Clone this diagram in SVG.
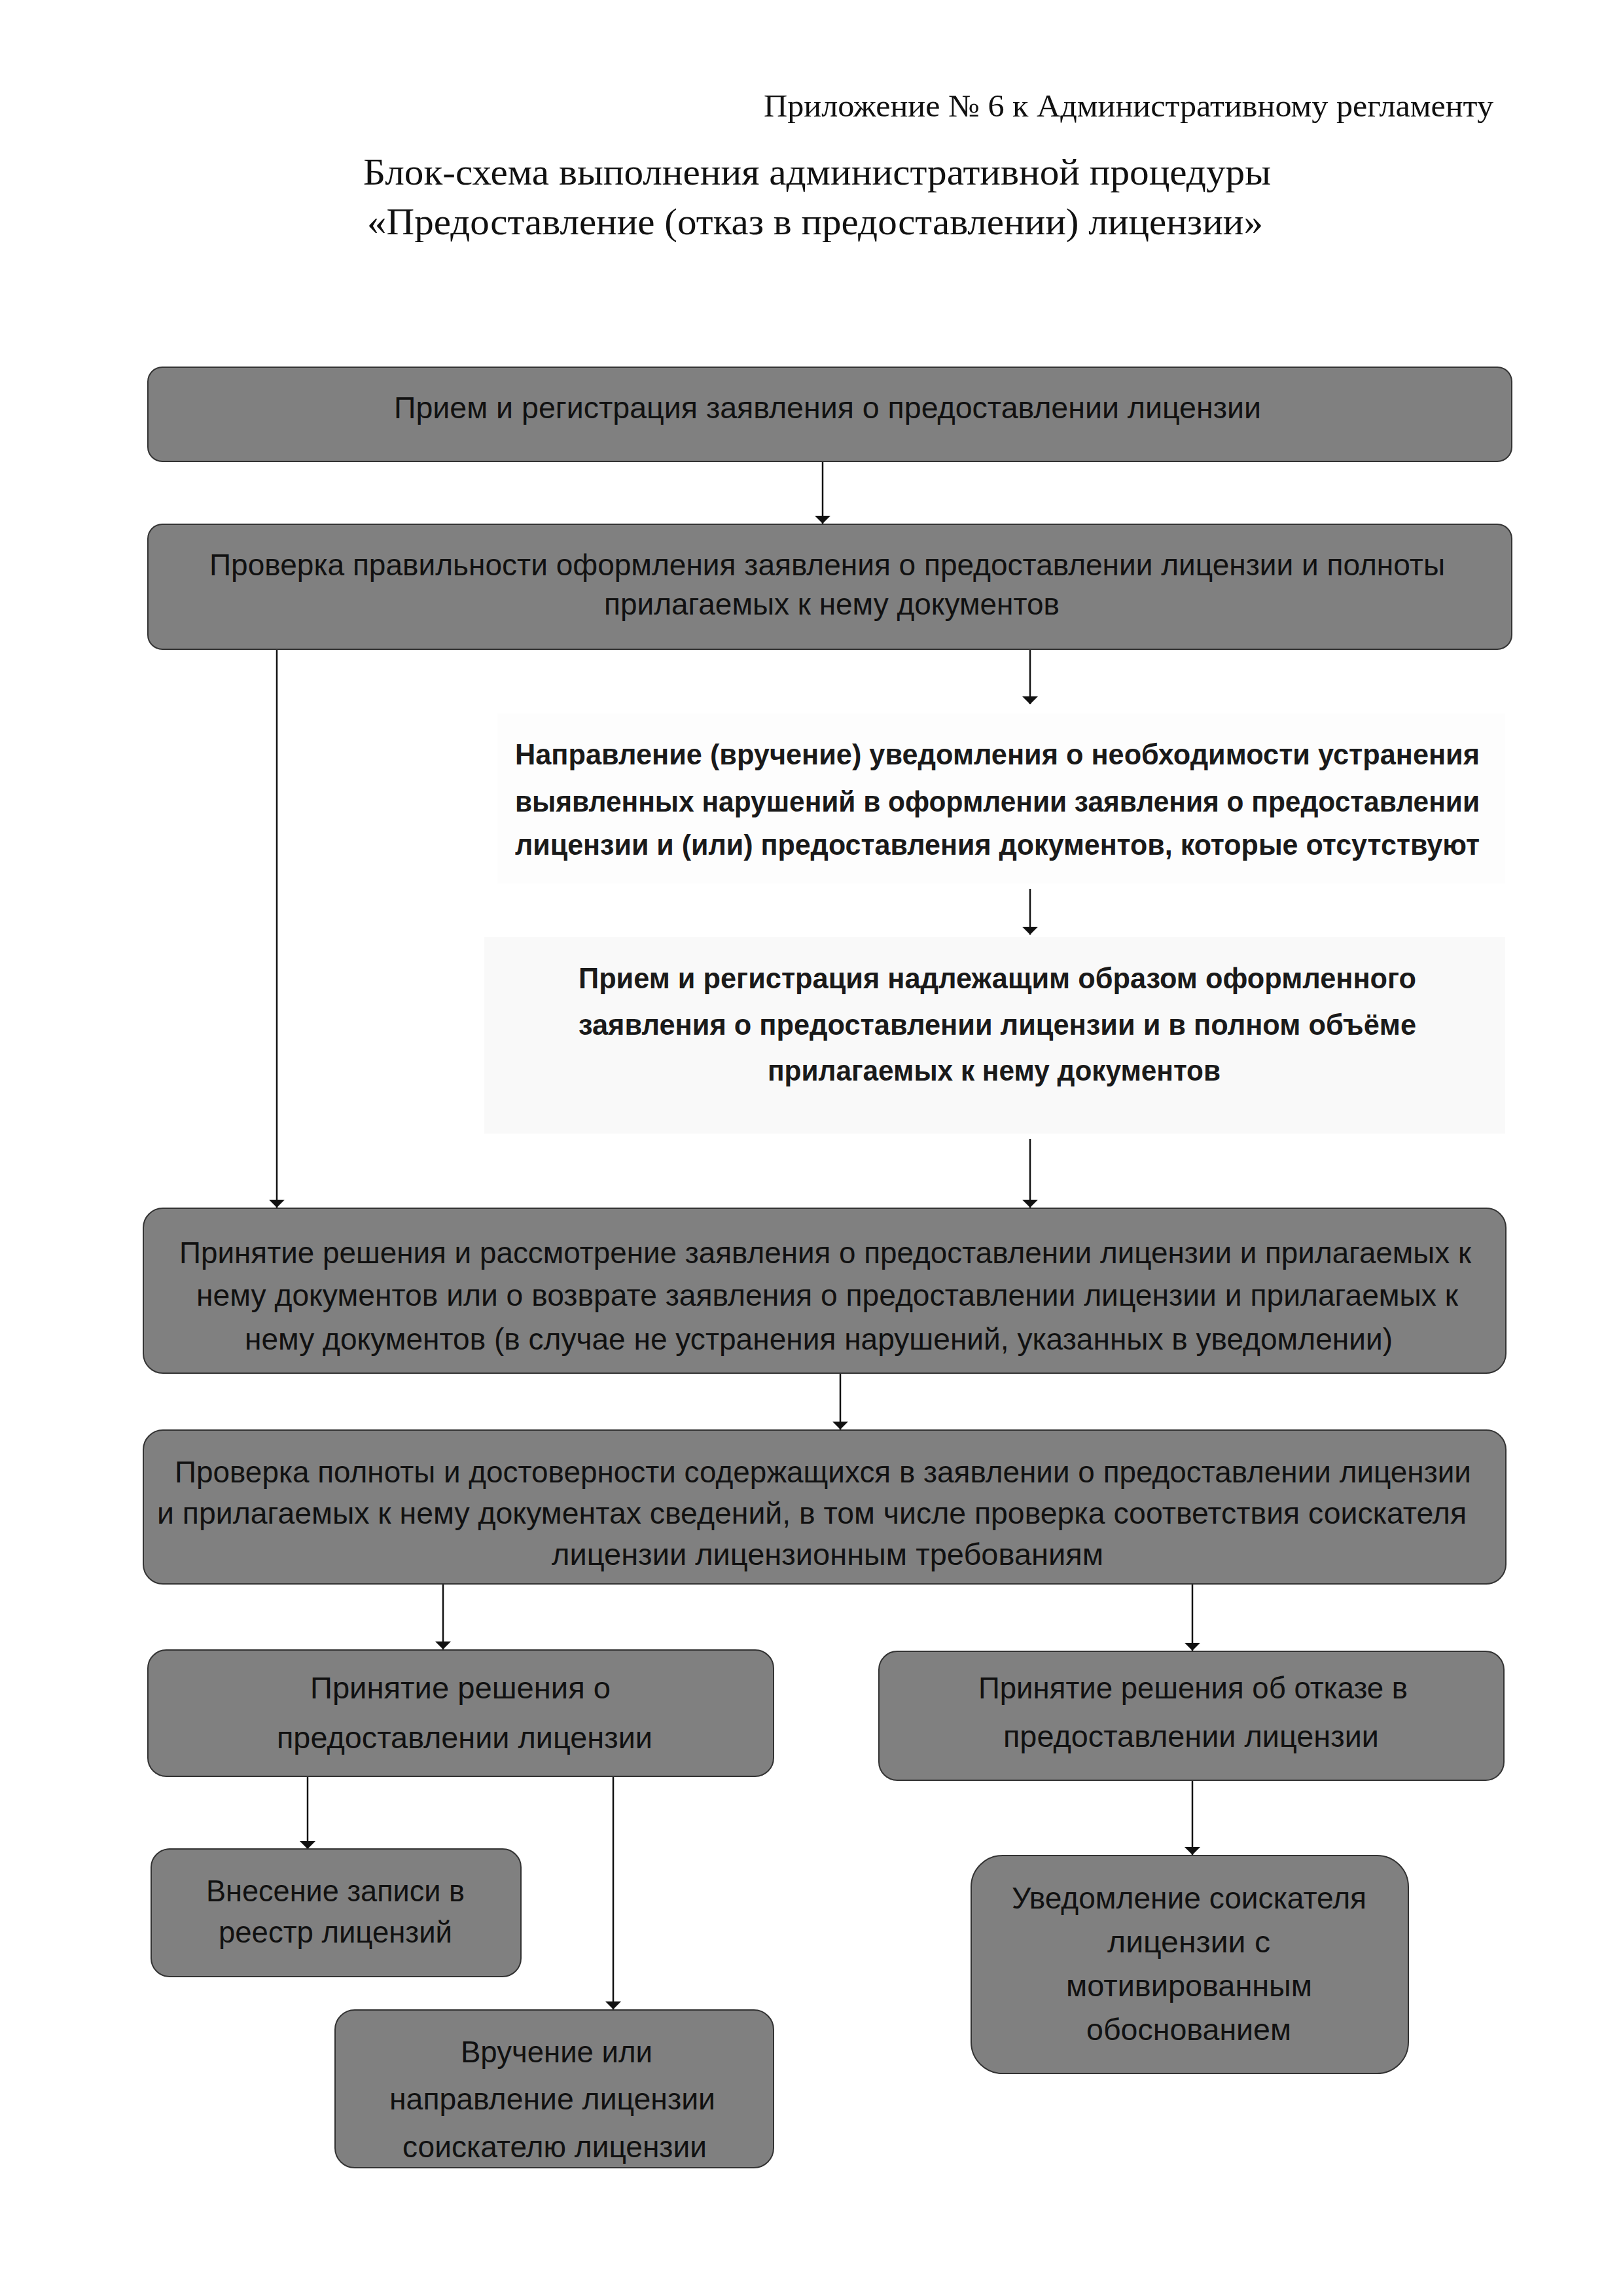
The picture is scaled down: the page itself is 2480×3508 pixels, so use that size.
<svg xmlns="http://www.w3.org/2000/svg" width="2480" height="3508" viewBox="0 0 2480 3508">
<style>
.hdr{font-family:"Liberation Serif","DejaVu Serif",serif;fill:#111;}
.box{fill:#808080;stroke:#333;stroke-width:2;}
.plain{stroke:none;}
.bt{font-family:"Liberation Sans","DejaVu Sans",sans-serif;font-size:46px;fill:#111;text-anchor:start;}
.pt{font-family:"Liberation Sans","DejaVu Sans",sans-serif;font-size:44px;font-weight:bold;fill:#1a1a1a;}
.con{stroke:#111;stroke-width:2.5;fill:none;marker-end:url(#arr);}
</style>
<defs>
<marker id="arr" viewBox="0 0 12 24" refX="12" refY="12" markerWidth="12" markerHeight="24" markerUnits="userSpaceOnUse" orient="auto-start-reverse">
<path d="M0,0 L12,12 L0,24 Z" fill="#111"/>
</marker>
</defs>
<rect x="0" y="0" width="2480" height="3508" fill="#fff"/>

<g id="header">
<text class="hdr" x="1167" y="178" font-size="48" textLength="1115" lengthAdjust="spacingAndGlyphs">Приложение № 6 к Административному регламенту</text>
<text class="hdr" x="555" y="282" font-size="56" textLength="1387" lengthAdjust="spacingAndGlyphs">Блок-схема выполнения административной процедуры</text>
<text class="hdr" x="561" y="358" font-size="56" textLength="1369" lengthAdjust="spacingAndGlyphs">«Предоставление (отказ в предоставлении) лицензии»</text>
</g>

<g id="connectors">
<line class="con" x1="1257" y1="705" x2="1257" y2="800"/>
<line class="con" x1="423" y1="992" x2="423" y2="1845"/>
<line class="con" x1="1574" y1="992" x2="1574" y2="1076"/>
<line class="con" x1="1574" y1="1358" x2="1574" y2="1428"/>
<line class="con" x1="1574" y1="1740" x2="1574" y2="1845"/>
<line class="con" x1="1284" y1="2098" x2="1284" y2="2184"/>
<line class="con" x1="677" y1="2420" x2="677" y2="2520"/>
<line class="con" x1="1822" y1="2420" x2="1822" y2="2522"/>
<line class="con" x1="470" y1="2714" x2="470" y2="2825"/>
<line class="con" x1="937" y1="2714" x2="937" y2="3070"/>
<line class="con" x1="1822" y1="2720" x2="1822" y2="2834"/>
</g>

<g id="n1">
<rect class="box" x="226" y="561" width="2084" height="144" rx="22"/>
<text class="bt" x="602" y="639" textLength="1325" lengthAdjust="spacingAndGlyphs">Прием и регистрация заявления о предоставлении лицензии</text>
</g>

<g id="n2">
<rect class="box" x="226" y="801" width="2084" height="191" rx="22"/>
<text class="bt" x="320" y="879" textLength="1888" lengthAdjust="spacingAndGlyphs">Проверка правильности оформления заявления о предоставлении лицензии и полноты</text>
<text class="bt" x="923" y="939" textLength="696" lengthAdjust="spacingAndGlyphs">прилагаемых к нему документов</text>
</g>

<g id="n3">
<rect class="plain" x="760" y="1090" width="1540" height="260" fill="#fdfdfd"/>
<text class="pt" x="787" y="1168" textLength="1474" lengthAdjust="spacingAndGlyphs">Направление (вручение) уведомления о необходимости устранения</text>
<text class="pt" x="787" y="1240" textLength="1474" lengthAdjust="spacingAndGlyphs">выявленных нарушений в оформлении заявления о предоставлении</text>
<text class="pt" x="787" y="1306" textLength="1474" lengthAdjust="spacingAndGlyphs">лицензии и (или) предоставления документов, которые отсутствуют</text>
</g>

<g id="n4">
<rect class="plain" x="740" y="1432" width="1560" height="300" fill="#f9f9f9"/>
<text class="pt" x="884" y="1510" textLength="1280" lengthAdjust="spacingAndGlyphs">Прием и регистрация надлежащим образом оформленного</text>
<text class="pt" x="884" y="1581" textLength="1280" lengthAdjust="spacingAndGlyphs">заявления о предоставлении лицензии и в полном объёме</text>
<text class="pt" x="1173" y="1651" textLength="692" lengthAdjust="spacingAndGlyphs">прилагаемых к нему документов</text>
</g>

<g id="n5">
<rect class="box" x="219" y="1846" width="2082" height="252" rx="30"/>
<text class="bt" x="274" y="1930" textLength="1974" lengthAdjust="spacingAndGlyphs">Принятие решения и рассмотрение заявления о предоставлении лицензии и прилагаемых к</text>
<text class="bt" x="300" y="1995" textLength="1928" lengthAdjust="spacingAndGlyphs">нему документов или о возврате заявления о предоставлении лицензии и прилагаемых к</text>
<text class="bt" x="374" y="2062" textLength="1754" lengthAdjust="spacingAndGlyphs">нему документов (в случае не устранения нарушений, указанных в уведомлении)</text>
</g>

<g id="n6">
<rect class="box" x="219" y="2185" width="2082" height="235" rx="30"/>
<text class="bt" x="267" y="2265" textLength="1981" lengthAdjust="spacingAndGlyphs">Проверка полноты и достоверности содержащихся в заявлении о предоставлении лицензии</text>
<text class="bt" x="240" y="2328" textLength="2001" lengthAdjust="spacingAndGlyphs">и прилагаемых к нему документах сведений, в том числе проверка соответствия соискателя</text>
<text class="bt" x="843" y="2391" textLength="843" lengthAdjust="spacingAndGlyphs">лицензии лицензионным требованиям</text>
</g>

<g id="n7">
<rect class="box" x="226" y="2521" width="956" height="193" rx="28"/>
<text class="bt" x="474" y="2595" textLength="459" lengthAdjust="spacingAndGlyphs">Принятие решения о</text>
<text class="bt" x="423" y="2671" textLength="574" lengthAdjust="spacingAndGlyphs">предоставлении лицензии</text>
</g>

<g id="n8">
<rect class="box" x="1343" y="2523" width="955" height="197" rx="28"/>
<text class="bt" x="1495" y="2595" textLength="656" lengthAdjust="spacingAndGlyphs">Принятие решения об отказе в</text>
<text class="bt" x="1533" y="2669" textLength="574" lengthAdjust="spacingAndGlyphs">предоставлении лицензии</text>
</g>

<g id="n9">
<rect class="box" x="231" y="2825" width="565" height="195" rx="28"/>
<text class="bt" x="315" y="2905" textLength="395" lengthAdjust="spacingAndGlyphs">Внесение записи в</text>
<text class="bt" x="334" y="2968" textLength="357" lengthAdjust="spacingAndGlyphs">реестр лицензий</text>
</g>

<g id="n10">
<rect class="box" x="512" y="3071" width="670" height="241" rx="30"/>
<text class="bt" x="704" y="3151" textLength="293" lengthAdjust="spacingAndGlyphs">Вручение или</text>
<text class="bt" x="595" y="3223" textLength="498" lengthAdjust="spacingAndGlyphs">направление лицензии</text>
<text class="bt" x="615" y="3296" textLength="465" lengthAdjust="spacingAndGlyphs">соискателю лицензии</text>
</g>

<g id="n11">
<rect class="box" x="1484" y="2835" width="668" height="333" rx="48"/>
<text class="bt" x="1546" y="2916" textLength="542" lengthAdjust="spacingAndGlyphs">Уведомление соискателя</text>
<text class="bt" x="1692" y="2983" textLength="249" lengthAdjust="spacingAndGlyphs">лицензии с</text>
<text class="bt" x="1629" y="3050" textLength="376" lengthAdjust="spacingAndGlyphs">мотивированным</text>
<text class="bt" x="1660" y="3117" textLength="313" lengthAdjust="spacingAndGlyphs">обоснованием</text>
</g>
</svg>
